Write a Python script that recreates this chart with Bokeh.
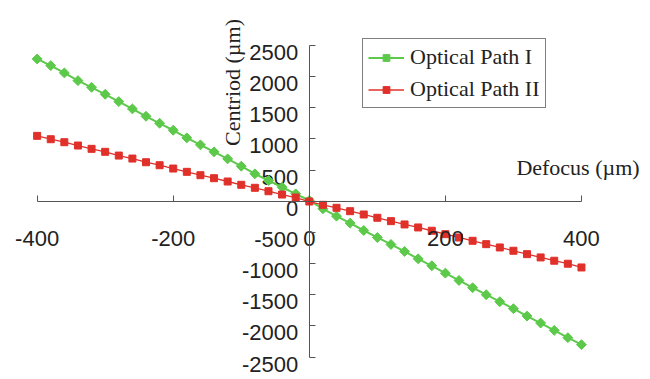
import math
from bokeh.plotting import figure
from bokeh.models import (LinearAxis, FixedTicker, Label, Legend, LegendItem, Range1d,
                          CustomJSTickFormatter)
from bokeh.core.properties import value
from bokeh.embed import file_html
from bokeh.resources import INLINE

defocus = list(range(-400, 401, 20))
path1 = [2282, 2175, 2058, 1934, 1827, 1715, 1598, 1481, 1362, 1250, 1138, 1016,
         904, 792, 679, 561, 439, 332, 224, 118, 11,
         -122, -240, -352, -470, -582, -694, -806, -924, -1036, -1154, -1271,
         -1388, -1500, -1612, -1724, -1843, -1955, -2072, -2189, -2301]
path2 = [1048, 994, 946, 893, 840, 792, 732, 684, 625, 577, 524, 471, 417, 369,
         316, 263, 215, 160, 107, 59, -5,
         -58, -106, -160, -213, -266, -320, -373, -421, -474, -529, -582, -635,
         -689, -742, -795, -849, -902, -955, -1003, -1063]
x_ticks = [-400, -200, 0, 200, 400]
y_ticks = [-2500, -2000, -1500, -1000, -500, 0, 500, 1000, 1500, 2000, 2500]
y_tick_labels = ["-2500", "-2000", "-1500", "-1000", "-500", "0", "500", "1000", "1500", "2000", "2500"]
series_names = ["Optical Path I", "Optical Path II"]
x_title = "Defocus (µm)"
y_title = "Centriod (µm)"

GREEN = "#5cc94a"
RED = "#e0302a"
W, H = 650, 379
# pixel layout of the reference: origin position and scale
X0_PX, X_SCALE = 308.8, 0.6804
Y0_PX, Y_SCALE = 200.7, 0.06234

p = figure(width=W, height=H, output_backend="svg", toolbar_location=None,
           x_axis_location=None, y_axis_location=None,
           min_border=0, min_border_left=0, min_border_right=0,
           min_border_top=0, min_border_bottom=0)
p.x_range = Range1d(-X0_PX / X_SCALE, (W - X0_PX) / X_SCALE)
p.y_range = Range1d(-(H - Y0_PX) / Y_SCALE, Y0_PX / Y_SCALE)
p.grid.visible = False
p.outline_line_color = None
p.background_fill_color = "white"
p.border_fill_color = "white"

fmt = CustomJSTickFormatter(code="return tick.toFixed(0)")

xa = LinearAxis(fixed_location=0, ticker=FixedTicker(ticks=x_ticks), formatter=fmt,
                bounds=(x_ticks[0], x_ticks[-1]))
xa.axis_line_color = "#555555"
xa.major_tick_line_color = "#555555"
xa.major_tick_in = 6
xa.major_tick_out = 0
xa.minor_tick_line_color = None
xa.major_label_standoff = 30
xa.major_label_text_font = "Liberation Sans"
xa.major_label_text_font_size = "22px"
xa.major_label_text_color = "#222222"
p.add_layout(xa, "below")

ya = LinearAxis(fixed_location=0, ticker=FixedTicker(ticks=y_ticks),
                bounds=(y_ticks[0], y_ticks[-1]))
ya.axis_line_color = "#555555"
ya.major_tick_line_color = "#555555"
ya.major_tick_in = 6
ya.major_tick_out = 0
ya.minor_tick_line_color = None
ya.major_label_text_font_size = "0px"
ya.major_label_text_alpha = 0
p.add_layout(ya, "left")

# y tick labels, drawn a little below their ticks as in the reference
p.text(x=[0] * len(y_ticks), y=y_ticks, text=y_tick_labels, x_offset=-11, y_offset=7,
       text_align="right", text_baseline="middle",
       text_font=value("Liberation Sans"), text_font_size="22px", text_color="#222222")

l1 = p.line(defocus, path1, line_color=GREEN, line_width=2)
m1 = p.scatter(defocus, path1, marker="square", angle=math.pi / 4, size=7,
               fill_color=GREEN, line_color=GREEN)
l2 = p.line(defocus, path2, line_color=RED, line_width=1.3)
m2 = p.scatter(defocus, path2, marker="square", size=7,
               fill_color=RED, line_color=RED)

p.add_layout(Label(x=(232 - X0_PX) / X_SCALE, y=(Y0_PX - 82) / Y_SCALE, text=y_title,
                   angle=math.pi / 2, text_align="center", text_baseline="middle",
                   text_font="Liberation Serif", text_font_size="22px", text_color="#222222"))
p.add_layout(Label(x=(577.5 - X0_PX) / X_SCALE, y=(Y0_PX - 167) / Y_SCALE, text=x_title,
                   text_align="center", text_baseline="middle",
                   text_font="Liberation Serif", text_font_size="22px", text_color="#222222"))

legend = Legend(items=[LegendItem(label=series_names[0], renderers=[l1, m1]),
                       LegendItem(label=series_names[1], renderers=[l2, m2])],
                location=(362, H - 108), orientation="vertical")
legend.label_text_font = "Liberation Serif"
legend.label_text_font_size = "22px"
legend.label_text_color = "#222222"
legend.border_line_color = "black"
legend.border_line_width = 1
legend.background_fill_alpha = 1
legend.glyph_width = 36
legend.glyph_height = 17
legend.label_height = 25
legend.label_standoff = 6
legend.spacing = 6
legend.padding = 5
legend.margin = 0
p.add_layout(legend, "center")

open("out.html", "w").write(file_html(p, INLINE))
